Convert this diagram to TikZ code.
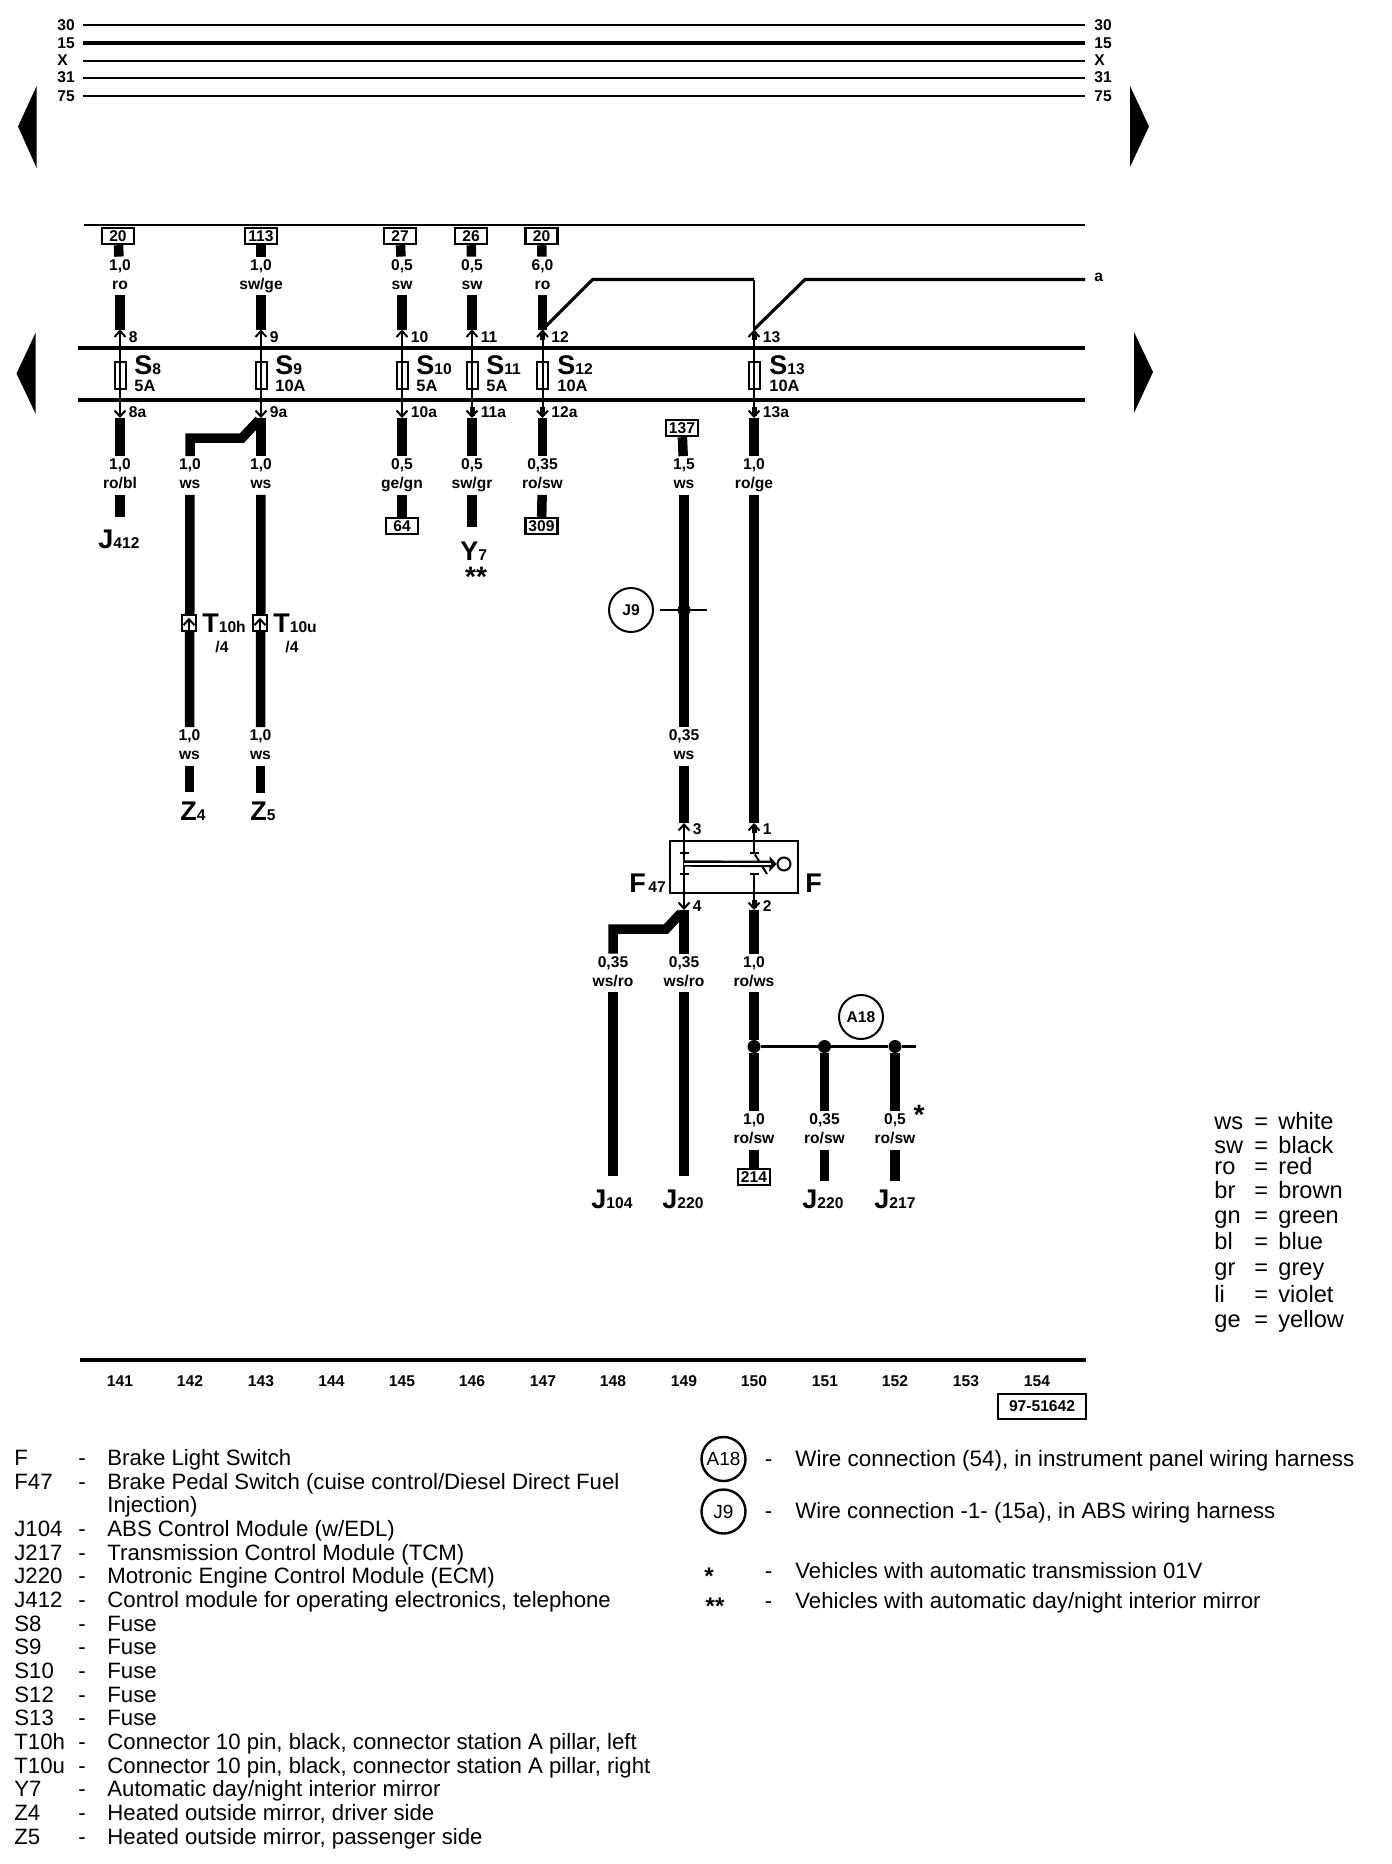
\documentclass[tikz,border=0pt]{standalone}
\usepackage{fontspec}
\setmainfont{Liberation Sans}
\usetikzlibrary{positioning}
\usetikzlibrary{arrows.meta}
\newcommand{\tagfont}{\bfseries\fontsize{7.8}{9.5}\selectfont}
\newcommand{\bigfont}{\bfseries\fontsize{13.5}{14}\selectfont}
\newcommand{\partlabel}[2]{{\bigfont #1}{\tagfont #2}}
\begin{document}
\begin{tikzpicture}[x=0.5pt,y=-0.5pt]
\tikzset{chev/.tip={Straight Barb[length=3pt,width=5.5pt]}}
\tikzset{wire/.style={line width=4.75pt}}
\tikzset{stem/.style={line width=1pt}}
\tikzset{nub/.style={line width=2.5pt}}
\tikzset{rail/.style={line width=1.6pt}}
\tikzset{bus/.style={line width=1pt}}
\tikzset{refbox/.style={rectangle,draw,line width=1.2pt,minimum width=16pt,minimum height=8pt,inner sep=0pt,fill=white,font=\tagfont}}
\tikzset{gauge/.style={inner sep=0pt,minimum height=19pt,align=center,font=\tagfont,execute at begin node={\rule{0pt}{8pt}},execute at end node={\rule[-1.8pt]{0pt}{1.8pt}}}}
\tikzset{fuse/.style={rectangle,draw,line width=1pt,minimum width=5.5pt,minimum height=13.5pt,inner sep=0pt}}
\tikzset{pinlabel/.style={inner sep=0pt,font=\tagfont}}
\tikzset{part/.style={inner sep=0pt,anchor=base west}}
\tikzset{rating/.style={inner sep=0pt,anchor=base west,font=\bfseries\fontsize{8.2}{9}\selectfont}}
\tikzset{splice/.style={circle,draw,line width=1pt,minimum size=22pt,inner sep=0pt,font=\tagfont}}
\tikzset{dot/.style={circle,fill,minimum size=6.5pt,inner sep=0pt}}
\tikzset{conn/.style={rectangle,draw,fill=white,line width=1.3pt,minimum width=7pt,minimum height=8pt,inner sep=0pt}}
\tikzset{tick/.style={rectangle,fill,minimum width=4.5pt,minimum height=1pt,inner sep=0pt}}
\tikzset{star/.style={inner sep=0pt,font=\bfseries\fontsize{14}{14}\selectfont}}
\tikzset{col/.style={inner sep=0pt,font=\tagfont}}
\tikzset{legend/.style={inner sep=0pt,anchor=base west,font=\fontsize{11.1}{12}\selectfont}}
\tikzset{shade/.style={inner sep=0pt,anchor=base west,font=\fontsize{11.8}{12}\selectfont}}
\useasboundingbox (0,0) rectangle (1392,1864);

\coordinate (l30) at (82.5,25);
\coordinate (r30) at (1085,25);
\coordinate (l15) at (82.5,43);
\coordinate (r15) at (1085,43);
\coordinate (lx) at (82.5,60.5);
\coordinate (rx) at (1085,60.5);
\coordinate (l31) at (82.5,77.5);
\coordinate (r31) at (1085,77.5);
\coordinate (l75) at (82.5,96);
\coordinate (r75) at (1085,96);
\draw[bus] (l30) -- (r30);
\draw[rail] (l15) -- (r15);
\draw[bus] (lx) -- (rx);
\draw[bus] (l31) -- (r31);
\draw[bus] (l75) -- (r75);
\node[pinlabel,anchor=west] (n30) at (57,25) {30};
\node[pinlabel,anchor=west] (n15) at (57,43) {15};
\node[pinlabel,anchor=west] (nx) at (57,60.5) {X};
\node[pinlabel,anchor=west] (n31) at (57,77.5) {31};
\node[pinlabel,anchor=west] (n75) at (57,96) {75};
\node[pinlabel,anchor=west] (m30) at (1094,25) {30};
\node[pinlabel,anchor=west] (m15) at (1094,43) {15};
\node[pinlabel,anchor=west] (mx) at (1094,60.5) {X};
\node[pinlabel,anchor=west] (m31) at (1094,77.5) {31};
\node[pinlabel,anchor=west] (m75) at (1094,96) {75};

\fill (36.6,86) -- (18,126.5) -- (36.6,168) -- cycle;
\fill (35.7,332.5) -- (16.5,373.5) -- (35.7,414) -- cycle;
\fill (1130,86) -- (1149,126.5) -- (1130,167) -- cycle;
\fill (1134,332) -- (1153,372) -- (1134,413) -- cycle;

\coordinate (tl) at (84,225);
\coordinate (tr) at (1085,225);
\coordinate (al) at (78,348);
\coordinate (ar) at (1085,348);
\coordinate (bl) at (78,400);
\coordinate (br) at (1085,400);
\coordinate (fl) at (79.5,1360);
\coordinate (fr) at (1085.5,1360);
\draw[bus] (tl) -- (tr);
\draw[rail] (al) -- (ar);
\draw[rail] (bl) -- (br);
\draw[rail] (fl) -- (fr);

\node[refbox] (b8) at (118,236) {20};
\node[refbox] (b9) at (261,236) {113};
\node[refbox] (b10) at (400,236) {27};
\node[refbox] (b11) at (471,236) {26};
\node[refbox] (b12) at (541.5,236) {20};
\node[gauge] (g8t) at (120,276) {1,0\\ro};
\node[gauge] (g9t) at (261,276) {1,0\\sw/ge};
\node[gauge] (g10t) at (402,276) {0,5\\sw};
\node[gauge] (g11t) at (472,276) {0,5\\sw};
\node[gauge] (g12t) at (542.5,276) {6,0\\ro};
\coordinate (p8) at (120,329.5);
\coordinate (p9) at (261,329.5);
\coordinate (p10) at (402,329.5);
\coordinate (p11) at (472,329.5);
\coordinate (p12) at (542.5,329.5);
\coordinate (p13) at (754,329.5);
\coordinate (p8a) at (120,418);
\coordinate (p9a) at (261,418);
\coordinate (p10a) at (402,418);
\coordinate (p11a) at (472,418);
\coordinate (p12a) at (542.5,418);
\coordinate (p13a) at (754,418);
\node[fuse] (f8) at (120,375) {};
\node[fuse] (f9) at (261,375) {};
\node[fuse] (f10) at (402,375) {};
\node[fuse] (f11) at (472,375) {};
\node[fuse] (f12) at (542.5,375) {};
\node[fuse] (f13) at (754,375) {};
\draw[wire] (b8) -- (g8t);
\draw[wire] (b9) -- (g9t);
\draw[wire] (b10) -- (g10t);
\draw[wire] (b11) -- (g11t);
\draw[wire] (b12) -- (g12t);
\draw[wire] (g8t) -- (p8);
\draw[wire] (g9t) -- (p9);
\draw[wire] (g10t) -- (p10);
\draw[wire] (g11t) -- (p11);
\draw[wire] (g12t) -- (p12);
\draw[stem,chev-chev] (p8a) -- (p8);
\draw[stem,chev-chev] (p9a) -- (p9);
\draw[stem,chev-chev] (p10a) -- (p10);
\draw[stem,chev-chev] (p11a) -- (p11);
\draw[stem,chev-chev] (p12a) -- (p12);
\draw[stem,chev-chev] (p13a) -- (p13);
\draw[nub] ([yshift=-1pt]p12) -- ++(0,8);
\draw[nub] ([yshift=-1pt]p13) -- ++(0,8);
\draw[nub] ([yshift=1pt]p11a) -- ++(0,-9);
\draw[nub] ([yshift=1pt]p12a) -- ++(0,-9);
\draw[nub] ([yshift=1pt]p13a) -- ++(0,-9);
\node[pinlabel,below right=1pt and 4.25pt of p8] (t8) {8};
\node[pinlabel,below right=1pt and 4.25pt of p9] (t9) {9};
\node[pinlabel,below right=1pt and 4.25pt of p10] (t10) {10};
\node[pinlabel,below right=1pt and 4.25pt of p11] (t11) {11};
\node[pinlabel,below right=1pt and 4.25pt of p12] (t12) {12};
\node[pinlabel,below right=1pt and 4.25pt of p13] (t13) {13};
\node[pinlabel,above right=0pt and 4.25pt of p8a] (t8a) {8a};
\node[pinlabel,above right=0pt and 4.25pt of p9a] (t9a) {9a};
\node[pinlabel,above right=0pt and 4.25pt of p10a] (t10a) {10a};
\node[pinlabel,above right=0pt and 4.25pt of p11a] (t11a) {11a};
\node[pinlabel,above right=0pt and 4.25pt of p12a] (t12a) {12a};
\node[pinlabel,above right=0pt and 4.25pt of p13a] (t13a) {13a};
\node[part] (s8) at (134,374) {\partlabel{S}{8}};
\node[part] (s9) at (275,374) {\partlabel{S}{9}};
\node[part] (s10) at (416,374) {\partlabel{S}{10}};
\node[part] (s11) at (486,374) {\partlabel{S}{11}};
\node[part] (s12) at (557,374) {\partlabel{S}{12}};
\node[part] (s13) at (769,374) {\partlabel{S}{13}};
\node[rating] (a8) at (134,391) {5A};
\node[rating] (a9) at (275,391) {10A};
\node[rating] (a10) at (416,391) {5A};
\node[rating] (a11) at (486,391) {5A};
\node[rating] (a12) at (557,391) {10A};
\node[rating] (a13) at (769,391) {10A};

\coordinate (k12) at (592.5,279.5);
\coordinate (k13) at (754,279.5);
\coordinate (k14) at (805,279.5);
\coordinate (kend) at (1085,279.5);
\draw[rail] (p12) -- (k12) -- (k13);
\draw[stem] (k13) -- (p13);
\draw[rail] (p13) -- (k14) -- (kend);
\node[pinlabel,anchor=west] (ka) at (1094,277) {a};

\node[gauge] (g8b) at (120,475.5) {1,0\\ro/bl};
\node[gauge] (g142a) at (190,475.5) {1,0\\ws};
\node[gauge] (g9b) at (261,475.5) {1,0\\ws};
\node[gauge] (g10b) at (402,475.5) {0,5\\ge/gn};
\node[gauge] (g11b) at (472,475.5) {0,5\\sw/gr};
\node[gauge] (g12b) at (542.5,475.5) {0,35\\ro/sw};
\node[gauge] (g149a) at (684,475.5) {1,5\\ws};
\node[gauge] (g150a) at (754,475.5) {1,0\\ro/ge};
\draw[wire] (p8a) -- (g8b);
\draw[wire] (p9a) -- (g9b);
\draw[wire] (p10a) -- (g10b);
\draw[wire] (p11a) -- (g11b);
\draw[wire] (p12a) -- (g12b);
\draw[wire] (p13a) -- (g150a);
\coordinate (h9a) at (190,438);
\coordinate (h9b) at (242,438);
\coordinate (h9c) at (259,420);
\draw[wire] (g142a) -- (h9a) -- (h9b) -- (h9c);

\coordinate (e8) at (120,517);
\coordinate (e11) at (472,527);
\node[refbox] (b64) at (402,526) {64};
\node[refbox] (b309) at (541.5,526) {309};
\node[refbox] (b137) at (682,428) {137};
\draw[wire] (g8b) -- (e8);
\draw[wire] (g10b) -- (b64);
\draw[wire] (g11b) -- (e11);
\draw[wire] (g12b) -- (b309);
\draw[wire] (b137) -- (g149a);
\node[part] (j412) at (98,548.5) {\partlabel{J}{412}};
\node[part] (y7) at (460,560) {\partlabel{Y}{7}};
\node[star] (y7s) at (476,577) {**};

\node[gauge] (g142b) at (189.5,746.5) {1,0\\ws};
\node[gauge] (g143b) at (260.5,746.5) {1,0\\ws};
\coordinate (e142) at (189.5,791.5);
\coordinate (e143) at (260.5,792.5);
\draw[wire] (g142a) -- (g142b);
\draw[wire] (g9b) -- (g143b);
\draw[wire] (g142b) -- (e142);
\draw[wire] (g143b) -- (e143);
\node[conn] (t10h) at (189,623) {};
\node[conn] (t10u) at (260,623) {};
\draw[stem,-chev] (t10h.south) -- ([yshift=-2pt]t10h.north);
\draw[stem,-chev] (t10u.south) -- ([yshift=-2pt]t10u.north);
\node[part] (lt10h) at (202,632) {\partlabel{T}{10h}};
\node[part] (lt10u) at (273,632) {\partlabel{T}{10u}};
\node[pinlabel] (n10h) at (222,646.5) {/4};
\node[pinlabel] (n10u) at (292,646.5) {/4};
\node[part] (z4) at (180,820) {\partlabel{Z}{4}};
\node[part] (z5) at (250,820) {\partlabel{Z}{5}};

\node[splice] (j9) at (631,610) {J9};
\node[dot] (dj9) at (684,610) {};
\coordinate (j9l) at (660,610);
\coordinate (j9r) at (707,610);
\node[gauge] (g149b) at (684,746.5) {0,35\\ws};
\coordinate (p3) at (684,823);
\coordinate (p1) at (754,823);
\coordinate (p4) at (684,910);
\coordinate (p2) at (754,910);
\draw[wire] (g149a) -- (g149b);
\draw[wire] (g149b) -- (p3);
\draw[wire] (g150a) -- (p1);
\draw[stem] (j9l) -- (j9r);

\node[rectangle,draw,line width=1.2pt,minimum width=64pt,minimum height=26pt,inner sep=0pt] (fsw) at (734,867) {};
\node[tick] (q3) at (684,853) {};
\node[tick] (q4) at (684,874) {};
\node[tick] (q1) at (754,853) {};
\node[tick] (q2) at (754,874) {};
\coordinate (blade) at (767,874);
\coordinate (ma) at (684,863.5);
\node[circle,draw,line width=1pt,minimum size=6.5pt,inner sep=0pt] (knob) at (784,864) {};
\draw[stem,chev-chev] (p4) -- (p3);
\draw[stem,chev-] (p1) -- (q1);
\draw[stem] (q1) -- (blade);
\draw[stem,-chev] (q2) -- (p2);
\draw[nub] ([yshift=-1pt]p1) -- ++(0,8);
\draw[nub] ([yshift=1pt]p2) -- ++(0,-8);
\draw[line width=3.2pt,-{Triangle[length=3.5pt,width=7.5pt]}] (ma) -- (knob);
\draw[white,line width=1pt] (ma) -- (771,863.5);
\node[pinlabel,below right=0pt and 4.25pt of p3] (t3) {3};
\node[pinlabel,below right=0pt and 4.25pt of p1] (t1) {1};
\node[pinlabel,above right=-1pt and 4.25pt of p4] (t4) {4};
\node[pinlabel,above right=-1pt and 4.25pt of p2] (t2) {2};
\node[part] (ff) at (805,892) {\partlabel{F}{}};
\node[part] (ff47) at (629,892) {\partlabel{F}{\,47}};

\node[gauge] (g148a) at (613,973) {0,35\\ws/ro};
\node[gauge] (g149c) at (684,973) {0,35\\ws/ro};
\node[gauge] (g150b) at (754,973) {1,0\\ro/ws};
\coordinate (h4a) at (613,929);
\coordinate (h4b) at (666,929);
\coordinate (h4c) at (681,913);
\coordinate (e148) at (613,1175.5);
\coordinate (e149) at (684,1175.5);
\draw[wire] (p4) -- (g149c);
\draw[wire] (p2) -- (g150b);
\draw[wire] (g148a) -- (h4a) -- (h4b) -- (h4c);
\draw[wire] (g148a) -- (e148);
\draw[wire] (g149c) -- (e149);
\node[part] (j104) at (591,1208) {\partlabel{J}{104}};
\node[part] (j220a) at (662,1208) {\partlabel{J}{220}};

\node[dot] (d150) at (754,1046.5) {};
\node[dot] (d151) at (824.5,1046.5) {};
\node[dot] (d152) at (895,1046.5) {};
\coordinate (dend) at (915.5,1046.5);
\node[splice] (a18) at (861,1017) {A18};
\node[gauge] (g150c) at (754,1130.5) {1,0\\ro/sw};
\node[gauge] (g151) at (824.5,1130.5) {0,35\\ro/sw};
\node[gauge] (g152) at (895,1130.5) {0,5\\ro/sw};
\node[refbox] (b214) at (754,1177) {214};
\coordinate (e151) at (824.5,1180.5);
\coordinate (e152) at (895,1180.5);
\draw[wire] (g150b) -- (d150);
\draw[wire] (d150) -- (g150c);
\draw[wire] (d151) -- (g151);
\draw[wire] (d152) -- (g152);
\draw[wire] (g150c) -- (b214);
\draw[wire] (g151) -- (e151);
\draw[wire] (g152) -- (e152);
\draw[rail] (d150) -- (d151) -- (d152) -- (dend);
\node[star] (g152s) at (919,1115) {*};
\node[part] (j220b) at (802,1208) {\partlabel{J}{220}};
\node[part] (j217) at (874,1208) {\partlabel{J}{217}};

\node[col] (c141) at (120,1381) {141};
\node[col] (c142) at (190,1381) {142};
\node[col] (c143) at (261,1381) {143};
\node[col] (c144) at (331.5,1381) {144};
\node[col] (c145) at (402,1381) {145};
\node[col] (c146) at (472,1381) {146};
\node[col] (c147) at (543,1381) {147};
\node[col] (c148) at (613,1381) {148};
\node[col] (c149) at (684,1381) {149};
\node[col] (c150) at (754,1381) {150};
\node[col] (c151) at (825,1381) {151};
\node[col] (c152) at (895,1381) {152};
\node[col] (c153) at (966,1381) {153};
\node[col] (c154) at (1037,1381) {154};
\node[rectangle,draw,line width=1.2pt,minimum width=44pt,minimum height=12.5pt,inner sep=0pt,font=\tagfont] (code) at (1042,1406.5) {97-51642};

\node[shade] (cws) at (1214,1129) {ws};
\node[shade] (csw) at (1214,1153.5) {sw};
\node[shade] (cro) at (1214,1174) {ro};
\node[shade] (cbr) at (1214,1198.5) {br};
\node[shade] (cgn) at (1214,1223) {gn};
\node[shade] (cbl) at (1214,1249) {bl};
\node[shade] (cgr) at (1214,1275.5) {gr};
\node[shade] (cli) at (1214,1302) {li};
\node[shade] (cge) at (1214,1327) {ge};
\node[shade] (ews) at (1254,1129) {=};
\node[shade] (esw) at (1254,1153.5) {=};
\node[shade] (ero) at (1254,1174) {=};
\node[shade] (ebr) at (1254,1198.5) {=};
\node[shade] (egn) at (1254,1223) {=};
\node[shade] (ebl) at (1254,1249) {=};
\node[shade] (egr) at (1254,1275.5) {=};
\node[shade] (eli) at (1254,1302) {=};
\node[shade] (ege) at (1254,1327) {=};
\node[shade] (nws) at (1278,1129) {white};
\node[shade] (nsw) at (1278,1153.5) {black};
\node[shade] (nro) at (1278,1174) {red};
\node[shade] (nbr) at (1278,1198.5) {brown};
\node[shade] (ngn) at (1278,1223) {green};
\node[shade] (nbl) at (1278,1249) {blue};
\node[shade] (ngr) at (1278,1275.5) {grey};
\node[shade] (nli) at (1278,1302) {violet};
\node[shade] (nge) at (1278,1327) {yellow};

\node[legend] (lf) at (14,1465.5) {F};
\node[legend] (lf47) at (14,1489) {F47};
\node[legend] (lj104) at (14,1536) {J104};
\node[legend] (lj217) at (14,1560) {J217};
\node[legend] (lj220) at (14,1583.5) {J220};
\node[legend] (lj412) at (14,1607.5) {J412};
\node[legend] (ls8) at (14,1631) {S8};
\node[legend] (ls9) at (14,1654.5) {S9};
\node[legend] (ls10) at (14,1678) {S10};
\node[legend] (ls12) at (14,1702) {S12};
\node[legend] (ls13) at (14,1725.5) {S13};
\node[legend] (lt10ha) at (14,1749.5) {T10h};
\node[legend] (lt10ua) at (14,1773) {T10u};
\node[legend] (ly7) at (14,1796.5) {Y7};
\node[legend] (lz4) at (14,1820) {Z4};
\node[legend] (lz5) at (14,1844) {Z5};
\node[legend] (df) at (78,1465.5) {-};
\node[legend] (df47) at (78,1489) {-};
\node[legend] (dj104) at (78,1536) {-};
\node[legend] (dj217) at (78,1560) {-};
\node[legend] (dj220) at (78,1583.5) {-};
\node[legend] (dj412) at (78,1607.5) {-};
\node[legend] (ds8) at (78,1631) {-};
\node[legend] (ds9) at (78,1654.5) {-};
\node[legend] (ds10) at (78,1678) {-};
\node[legend] (ds12) at (78,1702) {-};
\node[legend] (ds13) at (78,1725.5) {-};
\node[legend] (dt10h) at (78,1749.5) {-};
\node[legend] (dt10u) at (78,1773) {-};
\node[legend] (dy7) at (78,1796.5) {-};
\node[legend] (dz4) at (78,1820) {-};
\node[legend] (dz5) at (78,1844) {-};
\node[legend] (xf) at (107,1465.5) {Brake Light Switch};
\node[legend] (xf47) at (107,1489) {Brake Pedal Switch (cuise control/Diesel Direct Fuel};
\node[legend] (xf47b) at (107,1512.5) {Injection)};
\node[legend] (xj104) at (107,1536) {ABS Control Module (w/EDL)};
\node[legend] (xj217) at (107,1560) {Transmission Control Module (TCM)};
\node[legend] (xj220) at (107,1583.5) {Motronic Engine Control Module (ECM)};
\node[legend] (xj412) at (107,1607.5) {Control module for operating electronics, telephone};
\node[legend] (xs8) at (107,1631) {Fuse};
\node[legend] (xs9) at (107,1654.5) {Fuse};
\node[legend] (xs10) at (107,1678) {Fuse};
\node[legend] (xs12) at (107,1702) {Fuse};
\node[legend] (xs13) at (107,1725.5) {Fuse};
\node[legend] (xt10h) at (107,1749.5) {Connector 10 pin, black, connector station A pillar, left};
\node[legend] (xt10u) at (107,1773) {Connector 10 pin, black, connector station A pillar, right};
\node[legend] (xy7) at (107,1796.5) {Automatic day/night interior mirror};
\node[legend] (xz4) at (107,1820) {Heated outside mirror, driver side};
\node[legend] (xz5) at (107,1844) {Heated outside mirror, passenger side};

\node[splice,line width=1.2pt,font=\fontsize{9.5}{10}\selectfont] (la18) at (723.5,1459) {A18};
\node[splice,line width=1.2pt,font=\fontsize{9.5}{10}\selectfont] (lj9) at (723.5,1511.5) {J9};
\node[star,font=\bfseries\fontsize{12}{12}\selectfont] (ls1) at (709,1576) {*};
\node[star,font=\bfseries\fontsize{12}{12}\selectfont] (ls2) at (715,1606) {**};
\node[legend] (da18) at (764.5,1466) {-};
\node[legend] (dl9) at (764.5,1518.5) {-};
\node[legend] (ds1) at (764.5,1578) {-};
\node[legend] (ds2) at (764.5,1608.5) {-};
\node[legend,font=\fontsize{11.2}{12}\selectfont] (xa18) at (795,1466) {Wire connection (54), in instrument panel wiring harness};
\node[legend] (xj9) at (795,1518.5) {Wire connection -1- (15a), in ABS wiring harness};
\node[legend] (xs1) at (795,1578) {Vehicles with automatic transmission 01V};
\node[legend] (xs2) at (795,1608.5) {Vehicles with automatic day/night interior mirror};
\end{tikzpicture}
\end{document}
